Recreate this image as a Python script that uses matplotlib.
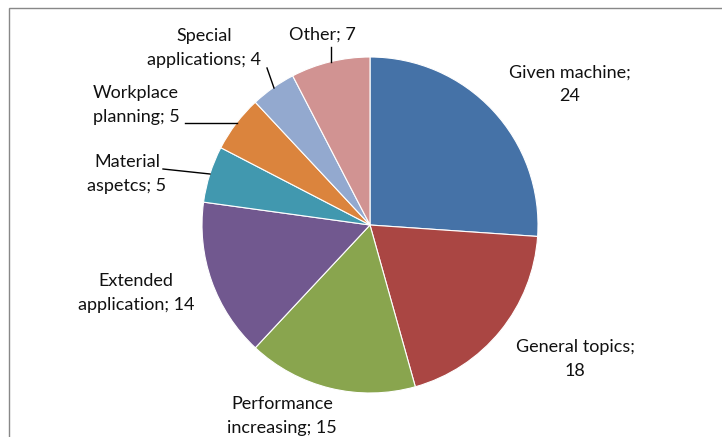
import matplotlib
matplotlib.use("Agg")
import matplotlib.pyplot as plt
from matplotlib.patches import Rectangle

plt.rcParams['font.family'] = ['Lato', 'DejaVu Sans']

labels = ['Given machine;\n24', 'General topics;\n18', 'Performance\nincreasing; 15',
          'Extended\napplication; 14', 'Material\naspetcs; 5', 'Workplace\nplanning; 5',
          'Special\napplications; 4', 'Other; 7']
values = [24, 18, 15, 14, 5, 5, 4, 7]
colors = ['#4572A7', '#AA4643', '#89A54E', '#71588F', '#4198AF', '#DB843D', '#93A9CF', '#D19392']

# label centres in pixels of the 722x437 canvas
label_px = [(570, 84), (575, 359), (282, 416), (136, 293),
            (127, 174), (136, 105), (204, 48), (322, 35)]
# leader lines (pixel polylines) for the small slices
leaders = {
    4: [(163, 169), (210, 174)],
    5: [(185, 123), (237, 123)],
    6: [(267, 68), (274, 88)],
    7: [(331, 47), (331, 62)],
}

W, H = 722, 437
cx, cy, r = 370, 225, 168

fig = plt.figure(figsize=(W / 100, H / 100), dpi=100)
fig.patch.set_facecolor('white')
fig.patches.append(Rectangle((9 / W, -0.1), 1.2, 1 - 8 / H + 0.1, transform=fig.transFigure,
                             fill=False, edgecolor='#888888', linewidth=1.0))

ax = fig.add_axes([0, 0, 1, 1])
ax.axis('off')

# y axis points down, so start at -90 and go "counterclockwise" to run clockwise on screen
ax.pie(values, colors=colors, startangle=-90, counterclock=True,
       radius=r, center=(cx, cy),
       wedgeprops=dict(edgecolor='white', linewidth=0.8))
ax.set_xlim(0, W)
ax.set_ylim(H, 0)
ax.set_aspect('equal')

for txt, (px, py) in zip(labels, label_px):
    ax.text(px, py, txt, ha='center', va='center', fontsize=13,
            color='#111111', linespacing=1.55)

for pts in leaders.values():
    xs, ys = zip(*pts)
    ax.plot(xs, ys, color='black', linewidth=1.0)

fig.savefig('out.png', dpi=100)
